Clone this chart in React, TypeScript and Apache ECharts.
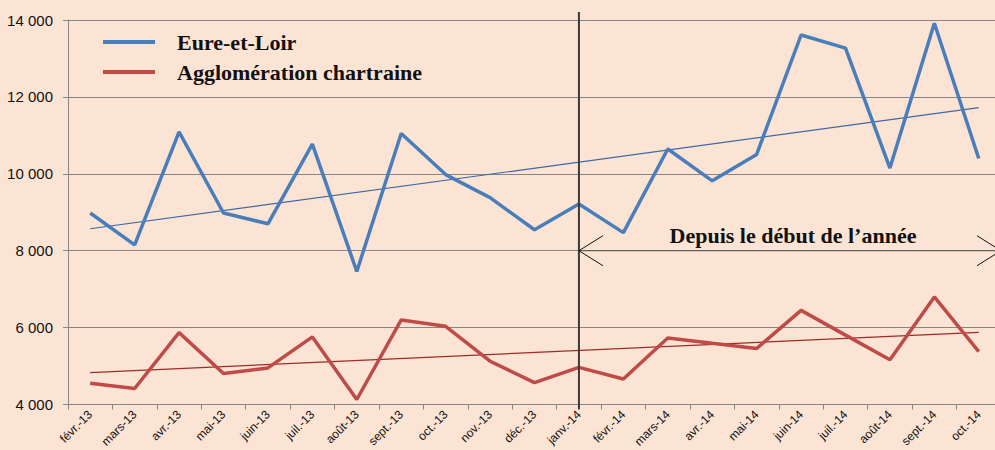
import React, { useEffect, useRef } from "react";
import * as echarts from "echarts";

const categories = [
  "févr.-13", "mars-13", "avr.-13", "mai-13", "juin-13", "juil.-13", "août-13",
  "sept.-13", "oct.-13", "nov.-13", "déc.-13", "janv.-14", "févr.-14", "mars-14",
  "avr.-14", "mai-14", "juin-14", "juil.-14", "août-14", "sept.-14", "oct.-14",
];

const eureEtLoir = [
  8980, 8150, 11090, 8980, 8700, 10770, 7460, 11050, 9980, 9380, 8545,
  9215, 8470, 10645, 9818, 10505, 13610, 13268, 10150, 13915, 10400,
];

const agglomeration = [
  4553, 4416, 5870, 4805, 4952, 5758, 4130, 6199, 6034, 5126, 4571,
  4966, 4665, 5730, 5593, 5458, 6449, 5805, 5162, 6797, 5377,
];

// trend line end points (first and last month)
const eureTrend = [8571, 11722];
const aggloTrend = [4831, 5878];

const yTicks = { min: 4000, max: 14000, interval: 2000 };

const seriesNames = ["Eure-et-Loir", "Agglomération chartraine"];
const annotationText = "Depuis le début de l’année";
const markerCategory = "janv.-14";

const BG = "#FCE4D4";
const BLUE = "#4A7EBB";
const RED = "#BE4B48";

export default function App() {
  const ref = useRef<HTMLDivElement>(null);

  useEffect(() => {
    if (!ref.current) return;
    const chart = echarts.init(ref.current, undefined, { renderer: "svg" });
    const last = categories.length - 1;
    chart.setOption({
      animation: false,
      backgroundColor: BG,
      grid: { left: 68, right: 0, top: 20, bottom: 45, containLabel: false },
      legend: {
        orient: "vertical",
        left: 98,
        top: 26,
        itemWidth: 52,
        itemHeight: 4,
        itemGap: 8,
        icon: "rect",
        data: seriesNames,
        textStyle: {
          fontFamily: "Liberation Serif",
          fontWeight: "bold",
          fontSize: 22,
          color: "#111",
          padding: [0, 0, 0, 17],
        },
      },
      xAxis: {
        type: "category",
        data: categories,
        boundaryGap: true,
        axisLine: { lineStyle: { color: "#868686", width: 1 } },
        axisTick: { show: true, length: 5, lineStyle: { color: "#868686" } },
        axisLabel: {
          interval: 0,
          rotate: 45,
          margin: 8,
          fontFamily: "Liberation Sans",
          fontSize: 12,
          color: "#111",
        },
        splitLine: { show: false },
      },
      yAxis: {
        type: "value",
        min: yTicks.min,
        max: yTicks.max,
        interval: yTicks.interval,
        axisLine: { show: true, lineStyle: { color: "#868686", width: 1 } },
        axisTick: { show: true, length: 5, lineStyle: { color: "#868686" } },
        axisLabel: {
          margin: 15,
          fontFamily: "Liberation Sans",
          fontSize: 15,
          color: "#111",
          formatter: (v: number) => String(v).replace(/\B(?=(\d{3})+(?!\d))/g, " "),
        },
        splitLine: { show: true, lineStyle: { color: "#868686", width: 1 } },
      },
      series: [
        {
          name: seriesNames[0],
          type: "line",
          data: eureEtLoir,
          showSymbol: false,
          symbol: "none",
          itemStyle: { color: BLUE },
          lineStyle: { color: BLUE, width: 3.5 },
          z: 3,
        },
        {
          name: seriesNames[1],
          type: "line",
          data: agglomeration,
          showSymbol: false,
          symbol: "none",
          itemStyle: { color: RED },
          lineStyle: { color: RED, width: 3.5 },
          z: 3,
        },
        {
          name: "trend1",
          type: "line",
          data: [[0, eureTrend[0]], [last, eureTrend[1]]],
          symbol: "none",
          lineStyle: { color: "#3D68A3", width: 1.2 },
          z: 2,
        },
        {
          name: "trend2",
          type: "line",
          data: [[0, aggloTrend[0]], [last, aggloTrend[1]]],
          symbol: "none",
          lineStyle: { color: "#9C2B2A", width: 1.2 },
          z: 2,
        },
      ],
    });

    const xJ = chart.convertToPixel({ xAxisIndex: 0 }, markerCategory) as number;
    const xLast = chart.convertToPixel({ xAxisIndex: 0 }, categories[last]) as number;
    const xPrev = chart.convertToPixel({ xAxisIndex: 0 }, categories[last - 1]) as number;
    const xRight = xLast + (xLast - xPrev) / 2;
    const yTop = chart.convertToPixel({ yAxisIndex: 0 }, yTicks.max) as number;
    const yBot = chart.convertToPixel({ yAxisIndex: 0 }, yTicks.min) as number;
    const y8 = chart.convertToPixel({ yAxisIndex: 0 }, 8000) as number;

    chart.setOption({
      graphic: [
        {
          type: "line",
          shape: { x1: xJ, y1: yTop - 8, x2: xJ, y2: yBot + 5 },
          style: { stroke: "#3a3a3a", lineWidth: 2 },
          z: 10,
        },
        {
          type: "line",
          shape: { x1: xJ, y1: y8, x2: xRight, y2: y8 },
          style: { stroke: "#555", lineWidth: 1 },
          z: 10,
        },
        {
          type: "polyline",
          shape: { points: [[xJ + 24, y8 - 15], [xJ, y8], [xJ + 24, y8 + 15]] },
          style: { stroke: "#111", lineWidth: 1, fill: null },
          z: 10,
        },
        {
          type: "polyline",
          shape: { points: [[xRight - 24, y8 - 15], [xRight, y8], [xRight - 24, y8 + 15]] },
          style: { stroke: "#111", lineWidth: 1, fill: null },
          z: 10,
        },
        {
          type: "text",
          x: (xJ + xRight) / 2 + 3,
          y: y8 - 15,
          style: {
            text: annotationText,
            fontFamily: "Liberation Serif",
            fontWeight: "bold",
            fontSize: 22,
            fill: "#111",
            align: "center",
            verticalAlign: "middle",
          },
          z: 10,
        },
      ],
    });

    return () => chart.dispose();
  }, []);

  return (
    <div
      ref={ref}
      style={{ position: "fixed", left: 0, top: 0, width: 1001, height: 450, background: BG }}
    />
  );
}
